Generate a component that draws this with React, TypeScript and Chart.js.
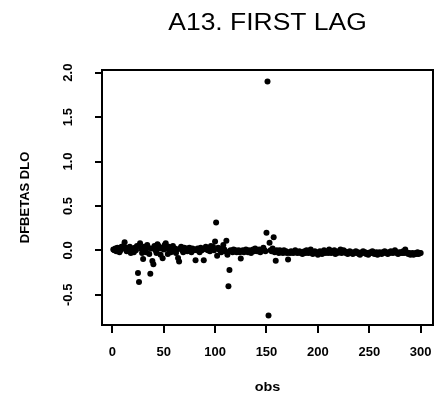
import React, { useEffect, useRef } from "react";
import { Chart, registerables } from "chart.js";

Chart.register(...registerables);

const TITLE = "A13. FIRST LAG";
const X_TITLE = "obs";
const Y_TITLE = "DFBETAS DLO";
const X_TICKS = [0, 50, 100, 150, 200, 250, 300];
const X_TICK_LABELS = ["0", "50", "100", "150", "200", "250", "300"];
const Y_TICKS = [-0.5, 0, 0.5, 1, 1.5, 2];
const Y_TICK_LABELS = ["-0.5", "0.0", "0.5", "1.0", "1.5", "2.0"];

const DFBETAS = [
  0.01, 0.0, 0.02, -0.01, 0.03, 0.01, -0.02, 0.0, 0.04, 0.02,
  0.05, 0.09, 0.03, -0.01, 0.02, 0.0, 0.04, -0.03, 0.01, 0.02,
  -0.02, 0.03, 0.0, 0.05, -0.255, -0.355, 0.08, 0.02, -0.03, -0.096,
  0.04, 0.01, -0.02, 0.06, 0.03, -0.04, -0.262, 0.02, -0.12, -0.155,
  0.05, 0.0, -0.03, 0.07, 0.05, 0.02, -0.05, 0.03, -0.09, 0.01,
  0.06, 0.08, 0.02, -0.04, 0.04, 0.0, -0.02, 0.03, 0.05, -0.01,
  0.02, -0.03, 0.01, -0.085, -0.125, 0.02, 0.04, 0.0, -0.02, 0.03,
  0.01, 0.02, -0.01, 0.0, 0.03, 0.01, -0.02, 0.02, 0.0, 0.01,
  -0.11, 0.0, 0.02, 0.01, -0.02, 0.03, 0.0, 0.01, -0.11, 0.02,
  0.04, 0.01, 0.0, 0.03, -0.01, 0.05, 0.02, 0.04, 0.0, 0.1,
  0.315, -0.06, 0.03, 0.01, 0.0, -0.02, 0.02, 0.06, 0.01, -0.01,
  0.108, -0.05, -0.403, -0.222, 0.0, -0.01, -0.02, 0.01, -0.01, 0.0,
  -0.02, -0.01, 0.0, -0.02, -0.092, -0.01, 0.0, -0.02, -0.01, 0.01,
  -0.01, -0.02, 0.0, -0.01, -0.03, 0.0, 0.01, -0.01, 0.02, 0.0,
  -0.01, 0.0, 0.01, -0.02, 0.0, 0.01, 0.03, 0.0, -0.01, 0.197,
  1.9, -0.733, 0.085, 0.0, -0.01, 0.02, 0.149, -0.02, -0.118, 0.0,
  -0.01, -0.03, 0.0, -0.02, -0.01, -0.03, 0.0, -0.02, -0.01, -0.03,
  -0.103, -0.02, -0.03, -0.01, -0.02, -0.03, -0.02, 0.0, -0.02, -0.03,
  -0.02, -0.01, -0.03, -0.02, -0.04, -0.02, -0.01, -0.03, 0.0, -0.02,
  -0.03, -0.02, 0.01, -0.02, -0.04, -0.03, -0.01, -0.02, -0.03, -0.05,
  -0.02, -0.01, -0.03, -0.04, -0.02, 0.0, -0.03, -0.02, -0.01, -0.03,
  0.01, -0.02, -0.03, -0.01, -0.02, 0.0, -0.04, -0.02, -0.03, -0.01,
  -0.02, 0.01, -0.03, -0.02, 0.0, -0.01, -0.03, -0.02, -0.04, -0.02,
  -0.01, -0.03, -0.02, -0.04, -0.03, -0.02, -0.01, -0.03, -0.02, -0.04,
  -0.05, -0.03, -0.02, -0.01, -0.03, -0.02, -0.04, -0.03, -0.05, -0.03,
  -0.02, -0.03, -0.01, -0.02, -0.04, -0.03, -0.02, -0.05, -0.03, -0.02,
  -0.03, -0.04, -0.02, -0.03, -0.01, -0.02, -0.03, -0.04, -0.02, -0.03,
  -0.01, -0.02, -0.03, -0.02, 0.0, -0.02, -0.03, -0.04, -0.02, -0.03,
  -0.02, -0.03, -0.01, -0.03, 0.01, -0.02, -0.03, -0.04, -0.03, -0.05,
  -0.04, -0.03, -0.05, -0.04, -0.03, -0.04, -0.02, -0.04, -0.03, -0.03,
];

const FONT = '"Liberation Sans", Arial, Helvetica, sans-serif';
const INK = "#000";

const decorPlugin = {
  id: "decor",
  afterDraw(chart: any) {
    const { ctx, chartArea, scales } = chart;
    const { left, right, top, bottom } = chartArea;
    const x = scales.x;
    const y = scales.y;
    ctx.save();
    ctx.strokeStyle = INK;
    ctx.lineWidth = 2;
    ctx.strokeRect(left, top, right - left, bottom - top);

    ctx.fillStyle = INK;
    ctx.textAlign = "center";
    ctx.textBaseline = "middle";

    // x tick labels
    ctx.font = `bold 13px ${FONT}`;
    X_TICKS.forEach((v, i) => {
      ctx.fillText(X_TICK_LABELS[i], x.getPixelForValue(v), 352);
    });

    // y tick labels (rotated, parallel to axis)
    ctx.font = `bold 13px ${FONT}`;
    Y_TICKS.forEach((v, i) => {
      ctx.save();
      ctx.translate(68.5, y.getPixelForValue(v));
      ctx.rotate(-Math.PI / 2);
      ctx.fillText(Y_TICK_LABELS[i], 0, 0);
      ctx.restore();
    });

    // x axis title
    ctx.save();
    ctx.translate((left + right) / 2, 388);
    ctx.scale(1.2, 1);
    ctx.font = `bold 12px ${FONT}`;
    ctx.fillText(X_TITLE, 0, 0);
    ctx.restore();

    // y axis title
    ctx.save();
    ctx.translate(25, (top + bottom) / 2);
    ctx.rotate(-Math.PI / 2);
    ctx.font = `bold 13px ${FONT}`;
    ctx.fillText(Y_TITLE, 0, 0);
    ctx.restore();

    // main title
    ctx.save();
    ctx.translate((left + right) / 2, 24);
    ctx.scale(1.15, 1);
    ctx.font = `23px ${FONT}`;
    ctx.fillText(TITLE, 0, 0);
    ctx.restore();

    ctx.restore();
  },
};

export default function App() {
  const ref = useRef<HTMLCanvasElement | null>(null);

  useEffect(() => {
    if (!ref.current) return;
    const points = DFBETAS.map((v, i) => ({ x: i + 1, y: v }));
    const chart = new Chart(ref.current, {
      type: "scatter",
      data: {
        datasets: [
          {
            data: points,
            pointRadius: 3,
            pointHoverRadius: 3,
            pointBackgroundColor: INK,
            pointBorderWidth: 0,
            showLine: false,
          },
        ],
      },
      options: {
        animation: false,
        responsive: false,
        devicePixelRatio: 1,
        events: [],
        layout: { padding: { top: 70, right: 8, left: 0, bottom: 0 } },
        plugins: {
          legend: { display: false },
          tooltip: { enabled: false },
          title: { display: false },
        },
        scales: {
          x: {
            type: "linear",
            min: -10,
            max: 312,
            afterBuildTicks: (s: any) => {
              s.ticks = X_TICKS.map((v) => ({ value: v }));
            },
            afterFit: (s: any) => {
              s.height = 71;
            },
            ticks: { display: false },
            border: { display: false },
            grid: {
              drawOnChartArea: false,
              drawTicks: true,
              tickLength: 8,
              color: INK,
              lineWidth: 2,
            },
          },
          y: {
            type: "linear",
            min: -0.84,
            max: 2.03,
            afterBuildTicks: (s: any) => {
              s.ticks = Y_TICKS.map((v) => ({ value: v }));
            },
            afterFit: (s: any) => {
              s.width = 102;
            },
            ticks: { display: false },
            border: { display: false },
            grid: {
              drawOnChartArea: false,
              drawTicks: true,
              tickLength: 7,
              color: INK,
              lineWidth: 2,
            },
          },
        },
      },
      plugins: [decorPlugin],
    });
    return () => chart.destroy();
  }, []);

  return (
    <div style={{ position: "fixed", left: 0, top: 0, width: 441, height: 396, background: "#fff" }}>
      <canvas ref={ref} width={441} height={396} style={{ display: "block" }} />
    </div>
  );
}
